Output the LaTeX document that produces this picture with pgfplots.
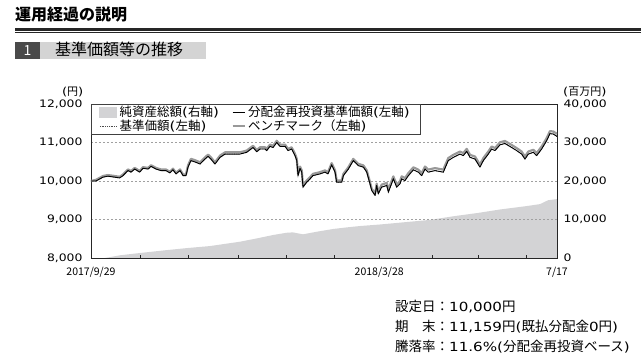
\documentclass[border=0pt]{standalone}
\usepackage{pgfplots}
\pgfplotsset{compat=1.18}
\usepackage{pgfplotstable}
\usepackage{fontspec}
\setmainfont{Noto Sans CJK JP}
\newfontfamily\jp{Noto Sans CJK JP}
\newfontfamily\numf[FakeStretch=1.2]{DejaVu Sans}
\definecolor{areagray}{HTML}{D3D3D5}
\definecolor{bmgray}{HTML}{999999}
\definecolor{griddash}{HTML}{A0A0A0}
\definecolor{darkbox}{HTML}{4A4A4A}
\definecolor{lightbox}{HTML}{D4D4D4}
\newcommand{\Nm}[1]{{\numf\fontsize{12.6}{13}\selectfont #1}}
\newcommand{\Pn}[1]{{\numf #1}}

\pgfplotstableread{
day nav bm
0 10000 10000
3.1 10000 10030
7.5 10100 10130
10.6 10125 10155
17.9 10080 10110
20.0 10140 10170
23.1 10270 10300
25.0 10230 10260
27.3 10310 10340
30.4 10230 10260
32.5 10330 10360
35.6 10310 10340
37.5 10380 10410
40.6 10310 10340
43.7 10270 10300
46.8 10270 10300
49.3 10210 10240
51.2 10290 10320
53.1 10185 10215
55.6 10270 10300
57.5 10140 10170
59.3 10140 10170
60.6 10360 10405
62.4 10530 10575
65.6 10485 10530
68.1 10440 10485
71.2 10570 10615
73.1 10640 10685
74.9 10570 10615
77.4 10440 10485
80.6 10615 10660
83.7 10700 10745
89.9 10700 10745
93.0 10700 10745
97.2 10745 10790
101.2 10870 10915
103.5 10760 10805
105.5 10830 10875
108.7 10830 10875
109.7 10790 10835
111.8 10900 10945
113.7 10870 10915
116.0 11000 11045
118.0 10900 10945
121.2 10900 10945
123.0 10790 10835
125.3 10830 10875
127.4 10660 10705
128.5 10530 10575
129.3 10140 10185
130.5 10330 10375
131.6 10230 10275
132.4 9840 9885
134.7 9970 10015
136.8 10055 10100
138.6 10140 10185
143.0 10185 10230
146.1 10230 10275
148.0 10185 10230
150.3 10420 10465
152.4 10230 10275
153.4 9970 10015
156.6 9970 10015
157.6 10140 10185
160.7 10310 10355
163.8 10530 10575
166.9 10400 10445
170.1 10360 10405
172.2 10230 10275
174.2 9930 9975
175.3 9755 9800
177.4 9625 9670
178.4 9885 9930
179.4 9670 9715
181.5 9840 9905
184.7 9885 9950
185.7 9710 9775
188.8 10055 10120
190.9 9840 9905
193.0 9930 9995
194.0 10055 10120
196.1 10010 10075
198.2 10140 10205
201.3 10290 10355
204.4 10230 10295
206.5 10140 10205
208.6 10310 10375
210.6 10230 10295
214.8 10270 10335
220.0 10230 10295
223.1 10530 10595
226.3 10615 10680
230.4 10700 10765
232.5 10660 10725
234.6 10770 10835
236.7 10615 10680
239.8 10570 10635
242.9 10360 10425
245.0 10530 10595
248.1 10700 10765
250.2 10830 10895
252.3 10790 10855
255.4 10940 11005
258.5 10975 11040
262.7 10870 10935
265.8 10790 10855
268.9 10700 10765
271.0 10570 10635
273.1 10700 10765
276.2 10745 10810
278.3 10660 10725
281.4 10830 10895
284.5 11045 11110
286.6 11230 11295
288.7 11220 11285
291 11159 11225
}\navtable

\pgfplotstableread{
day assets
0 0
8.7 0
18.1 700
30.6 1300
46.2 2000
60.6 2600
74.3 3100
93.0 4230
103.7 5100
113.7 5970
122.4 6570
126.1 6650
132.4 6150
141.1 6830
151.1 7530
159.9 7960
167.9 8300
180.4 8700
196.1 9300
211.7 9900
227.3 10900
241.6 11700
255.4 12600
272.3 13500
280.4 14000
285.4 15000
291 15300
}\assettable

\begin{document}
\begin{tikzpicture}
\useasboundingbox (0pt,0pt) rectangle (641pt,-361pt);

% header
\node[anchor=base west, inner sep=0pt] at (15pt,-21pt) {\fontsize{16}{16}\selectfont\bfseries 運用経過の説明};
\fill[black!85] (15pt,-28.3pt) rectangle (641pt,-31pt);
\fill[black!85] (15pt,-32.2pt) rectangle (641pt,-33.2pt);
\fill[darkbox] (15pt,-41.7pt) rectangle (40pt,-59pt);
\fill[lightbox] (40pt,-41.7pt) rectangle (205.5pt,-59pt);
\node[anchor=base, inner sep=0pt, white] at (27.5pt,-56pt) {\fontsize{14}{14}\selectfont 1};
\node[anchor=base west, inner sep=0pt] at (55pt,-56pt) {\fontsize{16}{16}\selectfont 基準価額等の推移};

% unit labels
\node[anchor=base east, inner sep=0pt] at (83.5pt,-95.5pt) {\fontsize{11}{11}\selectfont \Pn{(}円\Pn{)}};
\node[anchor=base west, inner sep=0pt] at (563pt,-95.5pt) {\fontsize{11}{11}\selectfont \Pn{(}百万円\Pn{)}};

% right axis: net assets
\begin{axis}[
  at={(91pt,-258pt)}, anchor=south west,
  scale only axis, width=466pt, height=154pt,
  xmin=0, xmax=291, ymin=0, ymax=40000,
  axis line style={draw=none},
  xtick=\empty,
  ytick={0,10000,20000,30000,40000},
  yticklabel pos=right,
  major tick length=0pt,
  scaled y ticks=false,
  yticklabel style={font=\numf\fontsize{10.3}{11}\selectfont, anchor=west, xshift=3pt},
  /pgf/number format/.cd, 1000 sep={,}, assume math mode=true,
]
\addplot[fill=areagray, draw=none] table[x=day, y=assets] {\assettable} \closedcycle;
\end{axis}

% left axis: prices
\begin{axis}[
  at={(91pt,-258pt)}, anchor=south west,
  scale only axis, width=466pt, height=154pt,
  xmin=0, xmax=291, ymin=8000, ymax=12000,
  axis line style={draw=black!85, line width=0.8pt},
  ytick={8000,9000,10000,11000,12000},
  ymajorgrids,
  grid style={griddash, line width=0.6pt, dash pattern=on 2pt off 2pt},
  ytick style={draw=none},
  xtick={0,31,61,92,122,152,180,213,242,272,291},
  xticklabels={2017/9/29,,,,,,2018/3/28,,,,7/17},
  xtick pos=bottom,
  tick align=inside,
  xtick style={draw=black!85, line width=0.6pt},
  major tick length=3.5pt,
  scaled y ticks=false,
  yticklabel style={font=\numf\fontsize{10.3}{11}\selectfont, anchor=east, xshift=-5pt},
  xticklabel style={font=\jp\fontsize{10.5}{10.5}\selectfont, anchor=north, yshift=-6pt},
  legend style={at={(0,1)}, anchor=north west, draw=black!75, line width=0.8pt,
    fill=white, font=\jp\fontsize{12.5}{12.5}\selectfont, inner xsep=8pt, inner ysep=1pt,
    row sep=-0.5pt,
    nodes={inner xsep=2.5pt, inner ysep=1pt},
    /tikz/every even column/.append style={column sep=10pt}},
  legend columns=2,
  legend cell align=left,
  /pgf/number format/.cd, 1000 sep={,}, assume math mode=true,
]
\addlegendimage{legend image code/.code={\fill[areagray] (0pt,-5pt) rectangle (17pt,5pt);}}
\addlegendentry{純資産総額\Pn{(}右軸\Pn{)}}
\addlegendimage{legend image code/.code={\draw[black, line width=0.9pt] (0pt,0pt) -- (12pt,0pt);}}
\addlegendentry{分配金再投資基準価額\Pn{(}左軸\Pn{)}}
\addlegendimage{legend image code/.code={\draw[black!70, line width=0.8pt, dash pattern=on 0.8pt off 1pt] (0pt,0pt) -- (17pt,0pt);}}
\addlegendentry{基準価額\Pn{(}左軸\Pn{)}}
\addlegendimage{legend image code/.code={\draw[bmgray, line width=2.2pt] (0pt,0pt) -- (12pt,0pt);}}
\addlegendentry{ベンチマーク（左軸\Pn{)}}

\addplot[forget plot, bmgray, line width=2.2pt, line join=round] table[x=day, y=bm] {\navtable};
\addplot[forget plot, black!70, line width=0.8pt, dash pattern=on 0.8pt off 1pt] table[x=day, y=nav] {\navtable};
\addplot[forget plot, black, line width=0.9pt, line join=round] table[x=day, y=nav] {\navtable};
\end{axis}

% bottom text
\node[anchor=base west, inner sep=0pt] at (395pt,-311pt) {\fontsize{13.5}{14}\selectfont 設定日：\Nm{10,000}円};
\node[anchor=base west, inner sep=0pt] at (395pt,-331pt) {\fontsize{13.5}{14}\selectfont 期\hspace{1em}末：\Nm{11,159}円\Nm{(}既払分配金\Nm{0}円\Nm{)}};
\node[anchor=base west, inner sep=0pt] at (395pt,-351pt) {\fontsize{13.5}{14}\selectfont 騰落率：\Nm{11.6\%(}分配金再投資ベース\Nm{)}};
\end{tikzpicture}
\end{document}
